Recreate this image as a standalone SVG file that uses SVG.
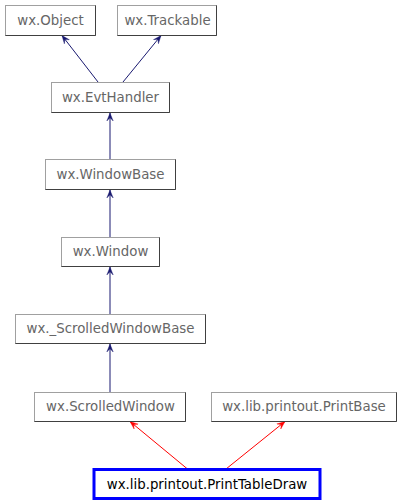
<svg xmlns="http://www.w3.org/2000/svg" width="402" height="504" viewBox="0 0 402 504">
<style>
.box{fill:#fff;stroke:#a0a0a0;stroke-width:1}
.sh{fill:none;stroke:#404040;stroke-width:1}
.t{font-family:"DejaVu Sans",sans-serif;font-size:13.33px;fill:#666;text-anchor:middle}
.e1{stroke:#191970;stroke-width:1;fill:none}
.e2{stroke:#ff0000;stroke-width:1;fill:none}
</style>
<defs>
<marker id="ab" viewBox="0 0 10 10" refX="10" refY="5" markerWidth="8" markerHeight="8" orient="auto" markerUnits="userSpaceOnUse"><path d="M0,1 L10,5 L0,9 L4,5 Z" fill="#191970" stroke="#191970" stroke-width="0.5"/></marker>
<marker id="ar" viewBox="0 0 10 10" refX="10" refY="5" markerWidth="8" markerHeight="8" orient="auto" markerUnits="userSpaceOnUse"><path d="M0,1 L10,5 L0,9 L4,5 Z" fill="#ff0000" stroke="#ff0000" stroke-width="0.5"/></marker>
</defs>
<rect width="402" height="504" fill="#fff"/>
<g id="edges">
<line class="e1" x1="98" y1="82" x2="62" y2="35.5" marker-end="url(#ab)"/>
<line class="e1" x1="123" y1="82" x2="161" y2="35.5" marker-end="url(#ab)"/>
<line class="e1" x1="110" y1="160" x2="110" y2="113" marker-end="url(#ab)"/>
<line class="e1" x1="110" y1="237" x2="110" y2="190" marker-end="url(#ab)"/>
<line class="e1" x1="110" y1="314" x2="110" y2="267" marker-end="url(#ab)"/>
<line class="e1" x1="110" y1="392" x2="110" y2="344" marker-end="url(#ab)"/>
<line class="e2" x1="187.5" y1="469" x2="130" y2="421.5" marker-end="url(#ar)"/>
<line class="e2" x1="226" y1="469" x2="285" y2="421.5" marker-end="url(#ar)"/>
</g>
<g id="wx.Object"><rect class="box" x="5.5" y="5.5" width="90" height="30"/><polyline class="sh" points="95.5,5.5 95.5,35.5 5.5,35.5"/><text class="t" x="50.5" y="25">wx.Object</text></g>
<g id="wx.Trackable"><rect class="box" x="117.5" y="5.5" width="99" height="30"/><polyline class="sh" points="216.5,5.5 216.5,35.5 117.5,35.5"/><text class="t" x="167.5" y="25">wx.Trackable</text></g>
<g id="wx.EvtHandler"><rect class="box" x="51.5" y="82.5" width="118" height="30"/><polyline class="sh" points="169.5,82.5 169.5,112.5 51.5,112.5"/><text class="t" x="110.5" y="102">wx.EvtHandler</text></g>
<g id="wx.WindowBase"><rect class="box" x="45.5" y="159.5" width="130" height="30"/><polyline class="sh" points="175.5,159.5 175.5,189.5 45.5,189.5"/><text class="t" x="110.5" y="179">wx.WindowBase</text></g>
<g id="wx.Window"><rect class="box" x="61.5" y="237.5" width="98" height="29"/><polyline class="sh" points="159.5,237.5 159.5,266.5 61.5,266.5"/><text class="t" x="110.5" y="256">wx.Window</text></g>
<g id="wx._ScrolledWindowBase"><rect class="box" x="15.5" y="314.5" width="190" height="29"/><polyline class="sh" points="205.5,314.5 205.5,343.5 15.5,343.5"/><text class="t" x="110.5" y="333">wx._ScrolledWindowBase</text></g>
<g id="wx.ScrolledWindow"><rect class="box" x="34.5" y="392.5" width="151" height="29"/><polyline class="sh" points="185.5,392.5 185.5,421.5 34.5,421.5"/><text class="t" x="110.5" y="411">wx.ScrolledWindow</text></g>
<g id="wx.lib.printout.PrintBase"><rect class="box" x="211.5" y="392.5" width="185" height="29"/><polyline class="sh" points="396.5,392.5 396.5,421.5 211.5,421.5"/><text class="t" x="304" y="411">wx.lib.printout.PrintBase</text></g>
<g id="wx.lib.printout.PrintTableDraw"><rect x="94" y="469.5" width="226" height="29" fill="#fff" stroke="#0000ff" stroke-width="3"/><text class="t" x="207" y="489" style="fill:#000">wx.lib.printout.PrintTableDraw</text></g>
</svg>
